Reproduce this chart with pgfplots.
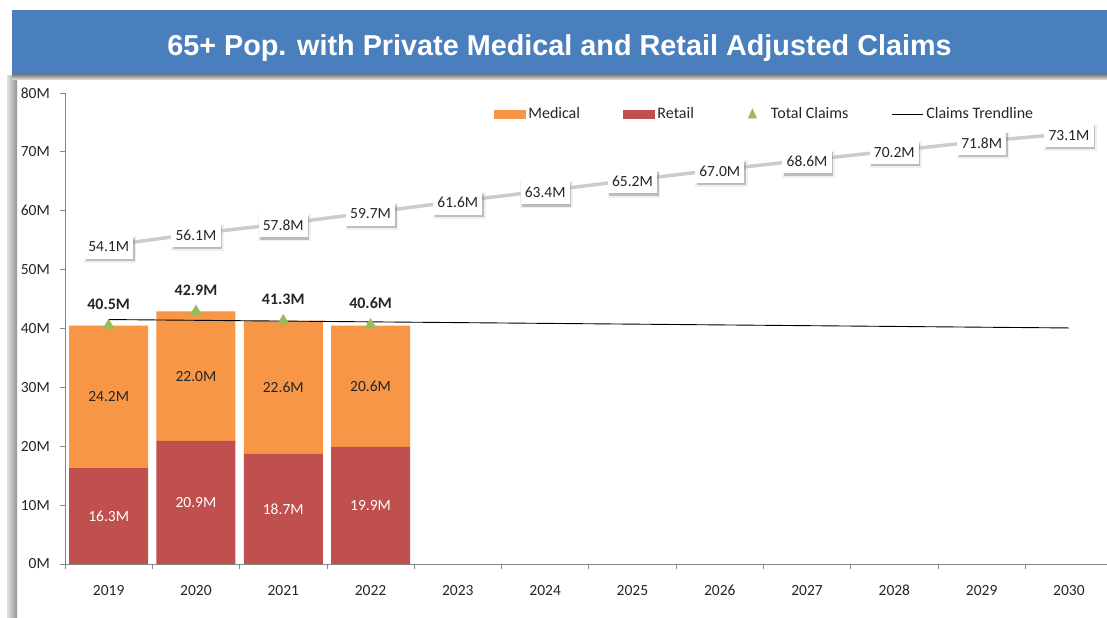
\documentclass[border=0pt]{standalone}
\usepackage{fontspec}
\setmainfont{Carlito}
\newfontfamily\titlefont{Liberation Sans}
\usepackage{pgfplots}
\pgfplotsset{compat=1.18}
\usepackage{pgfplotstable}
\usetikzlibrary{shadows}

\definecolor{medorange}{HTML}{F79646}
\definecolor{retred}{HTML}{C0504D}
\definecolor{totgreen}{HTML}{9BBB59}
\definecolor{banner}{HTML}{4A7FBE}
\definecolor{axisgray}{HTML}{868686}
\definecolor{txt}{HTML}{262626}

% actual claims (millions)
\pgfplotstableread{
idx retail medical total rlab mlab tlab
0 16.3 24.2 40.5 16.3M 24.2M 40.5M
1 20.9 22.0 42.9 20.9M 22.0M 42.9M
2 18.7 22.6 41.3 18.7M 22.6M 41.3M
3 19.9 20.6 40.6 19.9M 20.6M 40.6M
}\claims

% 65+ population projection (millions)
\pgfplotstableread{
idx proj lab
0 54.1 54.1M
1 56.1 56.1M
2 57.8 57.8M
3 59.7 59.7M
4 61.6 61.6M
5 63.4 63.4M
6 65.2 65.2M
7 67.0 67.0M
8 68.6 68.6M
9 70.2 70.2M
10 71.8 71.8M
11 73.1 73.1M
}\projection

\newcommand\lbl{\fontsize{15.5bp}{18bp}\selectfont}

\pgfplotsset{
  frame/.style={
    at={(65bp,54bp)}, anchor=south west,
    scale only axis, width=1042bp, height=471bp,
    xmin=-0.5, xmax=11.436, ymin=0, ymax=80,
  }
}

\begin{document}
\begin{tikzpicture}
\useasboundingbox (0,0) rectangle (1107bp,618bp);
\begin{scope}[x=1bp,y=1bp]
  \fill[white] (0,0) rectangle (1107,618);
  \shade[left color=black!12, right color=black!42] (7,0) rectangle (17,542);
  \shade[top color=black!55, bottom color=black!8] (12,544) rectangle (1107,538);
  \fill[banner] (12,544) rectangle (1107,608);
  \node[anchor=base, text=white, inner sep=0,
        font={\titlefont\bfseries\fontsize{28.8bp}{32bp}\selectfont}]
    at (559.5,562) {65+ Pop. with Private Medical and Retail Adjusted Claims};
\end{scope}

% stacked bars
\begin{axis}[frame,
  ybar stacked, bar width=79bp,
  axis x line*=bottom, axis y line*=left,
  axis line style={axisgray, line width=0.8bp, -},
  tick align=outside,
  major tick length=5bp, minor tick length=5bp,
  xtick={0,...,11},
  xticklabels={2019,2020,2021,2022,2023,2024,2025,2026,2027,2028,2029,2030},
  minor xtick={-0.5,0.5,...,11.5},
  major x tick style={draw=none},
  minor x tick style={axisgray, line width=0.8bp},
  ytick={0,10,...,80},
  yticklabels={0M,10M,20M,30M,40M,50M,60M,70M,80M},
  ytick style={axisgray, line width=0.8bp},
  xticklabel style={font=\lbl, text=txt, inner sep=0, anchor=north, yshift=-16bp},
  yticklabel style={font=\lbl, text=txt, inner sep=0, anchor=east, xshift=-10bp},
  legend columns=4,
  legend style={draw=none, fill=none, inner sep=0, outer sep=0,
    at={(axis description cs:0.4117,0.9555)}, anchor=west,
    font=\fontsize{16bp}{19bp}\selectfont, text=txt,
    nodes={inner sep=0},
    /tikz/every odd column/.append style={column sep=3bp},
    /tikz/every even column/.append style={column sep=43bp}},
]
\addlegendimage{legend image code/.code={\fill[medorange] (0bp,-4bp) rectangle (31bp,4bp);}}
\addlegendentry{Medical}
\addlegendimage{legend image code/.code={\fill[retred] (0bp,-4bp) rectangle (31bp,4bp);}}
\addlegendentry{Retail}
\addlegendimage{legend image code/.code={\path[draw=none, fill=none] (0bp,-4bp) rectangle (31bp,4bp);
  \fill[totgreen] (11.3bp,-4.2bp) -- (19.7bp,-4.2bp) -- (15.5bp,5.2bp) -- cycle;}}
\addlegendentry{Total Claims}
\addlegendimage{legend image code/.code={\draw[black, line width=0.9bp] (0bp,0bp) -- (31bp,0bp);}}
\addlegendentry{Claims Trendline}

% segment labels land at the middle of each segment with anchor=center
\addplot[fill=retred, draw=none,
  nodes near coords, point meta=explicit symbolic,
  every node near coord/.append style={font=\lbl, text=white, anchor=center}]
  table[x=idx, y=retail, meta=rlab] {\claims};
\addplot[fill=medorange, draw=none,
  nodes near coords, point meta=explicit symbolic,
  every node near coord/.append style={font=\lbl, text=txt, anchor=center}]
  table[x=idx, y=medical, meta=mlab] {\claims};
\end{axis}

% lines and markers
\begin{axis}[frame, hide axis, clip=false]
\addplot[black!20, line width=3.5bp,
  nodes near coords, point meta=explicit symbolic,
  every node near coord/.append style={font=\lbl, text=txt, fill=white,
    anchor=center, yshift=-1.5bp, inner xsep=4.2bp, inner ysep=6.5bp,
    general shadow={fill=black, opacity=0.28, shadow xshift=1.5bp, shadow yshift=-2.5bp}}]
  table[x=idx, y=proj, meta=lab] {\projection};
\addplot[black, line width=0.9bp] coordinates {(0,41.52) (11,40.09)};
\addplot[only marks, mark=triangle*, mark size=6.5bp,
  mark options={fill=totgreen, draw=totgreen},
  nodes near coords, point meta=explicit symbolic,
  every node near coord/.append style={font={\bfseries\fontsize{16bp}{19bp}\selectfont},
    text=txt, anchor=base, yshift=16bp}]
  table[x=idx, y=total, meta=tlab] {\claims};
\end{axis}
\end{tikzpicture}
\end{document}
